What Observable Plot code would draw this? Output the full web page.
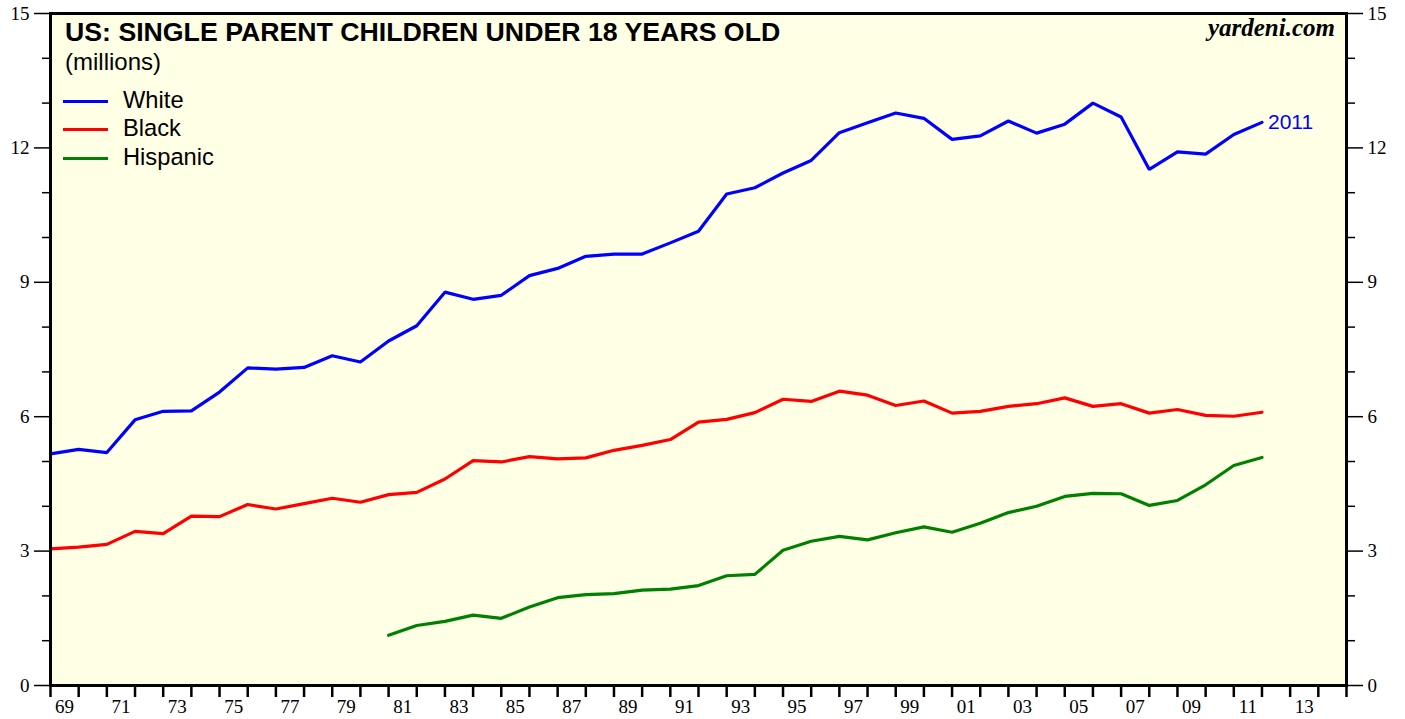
<!DOCTYPE html>
<html><head><meta charset="utf-8">
<script src="https://cdn.jsdelivr.net/npm/d3@7"></script>
<script src="https://cdn.jsdelivr.net/npm/@observablehq/plot@0.6"></script>
<style>
body{margin:0;background:#fff;}
#wrap{position:relative;width:1405px;height:719px;overflow:hidden;font-family:"Liberation Sans",Arial,sans-serif;}
#wrap svg{position:absolute;left:0;top:0;}
.ov{position:absolute;white-space:nowrap;color:#000;line-height:1;}
.sw{position:absolute;height:3px;width:45px;left:63px;}
</style></head><body>
<div id="wrap"></div>
<script>
// Data years (values are plotted at the end of each year)
const years = [1968,1969,1970,1971,1972,1973,1974,1975,1976,1977,1978,1979,1980,1981,1982,1983,1984,1985,1986,1987,1988,1989,1990,1991,1992,1993,1994,1995,1996,1997,1998,1999,2000,2001,2002,2003,2004,2005,2006,2007,2008,2009,2010,2011];
const white = [5.17,5.27,5.20,5.93,6.12,6.13,6.55,7.09,7.06,7.10,7.36,7.22,7.69,8.03,8.78,8.62,8.71,9.15,9.31,9.58,9.63,9.63,9.88,10.14,10.97,11.11,11.44,11.72,12.34,12.56,12.78,12.66,12.19,12.27,12.60,12.33,12.53,13.00,12.69,11.52,11.91,11.86,12.30,12.57];
const black = [3.05,3.09,3.15,3.44,3.39,3.78,3.77,4.04,3.94,4.06,4.18,4.09,4.26,4.31,4.61,5.02,4.99,5.11,5.06,5.08,5.25,5.36,5.49,5.88,5.94,6.09,6.39,6.34,6.57,6.48,6.25,6.35,6.08,6.12,6.23,6.29,6.42,6.23,6.29,6.08,6.16,6.03,6.01,6.10];
const hispanic = [null,null,null,null,null,null,null,null,null,null,null,null,1.12,1.34,1.43,1.57,1.50,1.75,1.96,2.03,2.05,2.13,2.15,2.23,2.45,2.48,3.02,3.22,3.33,3.25,3.41,3.54,3.42,3.62,3.86,4.00,4.22,4.29,4.28,4.02,4.13,4.48,4.91,5.09];
const seriesNames = ["White","Black","Hispanic"];
const seriesColors = ["#0000ff","#ff0000","#008000"];
const lastLabel = "2011";
const xTickYears = [1969,1970,1971,1972,1973,1974,1975,1976,1977,1978,1979,1980,1981,1982,1983,1984,1985,1986,1987,1988,1989,1990,1991,1992,1993,1994,1995,1996,1997,1998,1999,2000,2001,2002,2003,2004,2005,2006,2007,2008,2009,2010,2011,2012,2013,2014,2015];
const xLabelYears = [1969,1971,1973,1975,1977,1979,1981,1983,1985,1987,1989,1991,1993,1995,1997,1999,2001,2003,2005,2007,2009,2011,2013];
const yMajor = [0,3,6,9,12,15];
const yMinor = [1,2,4,5,7,8,10,11,13,14];
const titleText = "US: SINGLE PARENT CHILDREN UNDER 18 YEARS OLD";
const subtitleText = "(millions)";
const sourceText = "yardeni.com";

const seriesValues = [white, black, hispanic];
const rows = [];
seriesNames.forEach((name, k) => {
  years.forEach((yr, i) => {
    const v = seriesValues[k][i];
    if (v != null) rows.push({series: name, year: yr, value: v});
  });
});
const lastWhite = rows.filter(d => d.series === "White" && String(d.year) === lastLabel);

const chart = Plot.plot({
  width: 1405, height: 719,
  marginLeft: 50, marginRight: 59, marginTop: 13, marginBottom: 34,
  style: {fontFamily: "'Liberation Serif','Times New Roman',serif", fontSize: "19px", background: "transparent", color: "#000"},
  x: {domain: [1969, 2015], label: null},
  y: {domain: [0, 15], label: null},
  color: {domain: seriesNames, range: seriesColors},
  marks: [
    Plot.frame({fill: "#ffffe5", stroke: null}),
    Plot.axisY({anchor: "left", ticks: yMinor, tickSize: 8, tickFormat: () => "", strokeWidth: 1.5, label: null}),
    Plot.axisY({anchor: "left", ticks: yMajor, tickSize: 16, tickPadding: 5, strokeWidth: 1.5, label: null}),
    Plot.axisY({anchor: "right", ticks: yMinor, tickSize: 8, tickFormat: () => "", strokeWidth: 1.5, label: null}),
    Plot.axisY({anchor: "right", ticks: yMajor, tickSize: 16, tickPadding: 5, strokeWidth: 1.5, label: null}),
    Plot.axisX({ticks: xTickYears, tickSize: 12, tickFormat: () => "", strokeWidth: 2.5, label: null}),
    Plot.axisX({ticks: xLabelYears.map(y => y + 0.5), tickSize: 0, tickPadding: 14, tickFormat: d => String(Math.floor(d) % 100).padStart(2, "0"), label: null}),
    Plot.line(rows, {x: d => d.year + 1, y: "value", z: "series", stroke: "series", strokeWidth: 3.2, strokeLinejoin: "miter"}),
    Plot.text(lastWhite, {x: d => d.year + 1, y: "value", text: () => lastLabel, dx: 6, textAnchor: "start", fill: seriesColors[0], fontFamily: "'Liberation Sans',Arial,sans-serif", fontSize: 21}),
    Plot.frame({stroke: "#000", strokeWidth: 3})
  ]
});

const wrap = document.getElementById("wrap");
wrap.appendChild(chart);

function ov(text, css) {
  const d = document.createElement("div");
  d.className = "ov";
  d.textContent = text;
  Object.assign(d.style, css);
  wrap.appendChild(d);
  return d;
}
ov(titleText, {left: "65px", top: "19px", fontSize: "26.7px", fontWeight: "bold"});
ov(subtitleText, {left: "65px", top: "50px", fontSize: "24px"});
ov(sourceText, {right: "70px", top: "15px", fontSize: "25px", fontWeight: "bold", fontStyle: "italic", fontFamily: "'Liberation Serif','Times New Roman',serif"});
const legendTops = [99.5, 128.3, 157.2];
seriesNames.forEach((name, k) => {
  const s = document.createElement("div");
  s.className = "sw";
  s.style.top = legendTops[k] + "px";
  s.style.background = seriesColors[k];
  wrap.appendChild(s);
  ov(name, {left: "123px", top: (legendTops[k] - 11) + "px", fontSize: "23.7px"});
});
</script>
</body></html>
